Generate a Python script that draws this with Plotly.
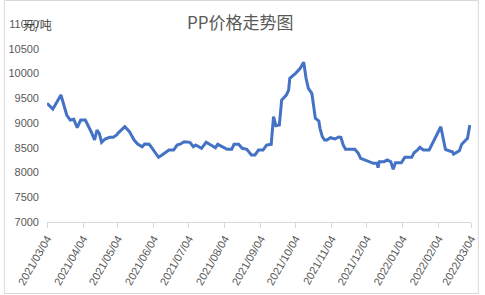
import plotly.graph_objects as go

dates = [
    "2021-03-04", "2021-03-09", "2021-03-16", "2021-03-19", "2021-03-21", "2021-03-24",
    "2021-03-27", "2021-03-30", "2021-04-02", "2021-04-06", "2021-04-09", "2021-04-11",
    "2021-04-14", "2021-04-16", "2021-04-18", "2021-04-20", "2021-04-23", "2021-04-27",
    "2021-04-30", "2021-05-03", "2021-05-04", "2021-05-10", "2021-05-14", "2021-05-18",
    "2021-05-21", "2021-05-25", "2021-05-27", "2021-05-31", "2021-06-02", "2021-06-05",
    "2021-06-08", "2021-06-11", "2021-06-15", "2021-06-17", "2021-06-21", "2021-06-24",
    "2021-06-27", "2021-06-30", "2021-07-05", "2021-07-08", "2021-07-10", "2021-07-15",
    "2021-07-19", "2021-07-23", "2021-07-27", "2021-07-29", "2021-08-02", "2021-08-06",
    "2021-08-10", "2021-08-12", "2021-08-16", "2021-08-19", "2021-08-23", "2021-08-27",
    "2021-08-30", "2021-09-02", "2021-09-06", "2021-09-09", "2021-09-13", "2021-09-15",
    "2021-09-17", "2021-09-20", "2021-09-22", "2021-09-26", "2021-09-28", "2021-09-29",
    "2021-10-04", "2021-10-08", "2021-10-11", "2021-10-13", "2021-10-15", "2021-10-18",
    "2021-10-21", "2021-10-24", "2021-10-25", "2021-10-27", "2021-10-29", "2021-10-31",
    "2021-11-03", "2021-11-07", "2021-11-10", "2021-11-12", "2021-11-14", "2021-11-16",
    "2021-11-24", "2021-11-27", "2021-11-29", "2021-12-03", "2021-12-06", "2021-12-10",
    "2021-12-13", "2021-12-14", "2021-12-15", "2021-12-19", "2021-12-22", "2021-12-25",
    "2021-12-27", "2021-12-29", "2022-01-03", "2022-01-06", "2022-01-12", "2022-01-14",
    "2022-01-17", "2022-01-19", "2022-01-22", "2022-01-27", "2022-02-06", "2022-02-08",
    "2022-02-10", "2022-02-13", "2022-02-16", "2022-02-17", "2022-02-22", "2022-02-24",
    "2022-03-01", "2022-03-03",
]

prices = [
    9400, 9280, 9565, 9297, 9161, 9060,
    9075, 8905, 9060, 9060, 8925, 8824,
    8656, 8858, 8790, 8610, 8677, 8711,
    8711, 8757, 8792, 8925, 8824, 8656,
    8576, 8521, 8576, 8570, 8509, 8400,
    8307, 8353, 8420, 8454, 8454, 8555,
    8576, 8622, 8610, 8521, 8555, 8488,
    8610, 8555, 8501, 8569, 8521, 8468,
    8468, 8569, 8569, 8488, 8468, 8353,
    8353, 8454, 8454, 8555, 8569, 9127,
    8945, 8959, 9464, 9565, 9666, 9903,
    10004, 10105, 10226, 9903, 9700, 9600,
    9095, 9040, 8892, 8723, 8656, 8656,
    8703, 8677, 8717, 8710, 8555, 8468,
    8468, 8388, 8287, 8252, 8218, 8185,
    8185, 8097, 8218, 8218, 8252, 8218,
    8064, 8198, 8198, 8306, 8306, 8400,
    8454, 8509, 8454, 8454, 8925, 8656,
    8468, 8440, 8420, 8373, 8440, 8569,
    8690, 8960,
]

tick_dates = [
    "2021-03-04", "2021-04-04", "2021-05-04", "2021-06-04", "2021-07-04", "2021-08-04",
    "2021-09-04", "2021-10-04", "2021-11-04", "2021-12-04", "2022-01-04", "2022-02-04",
    "2022-03-04",
]
tick_labels = [
    "2021/03/04", "2021/04/04", "2021/05/04", "2021/06/04", "2021/07/04", "2021/08/04",
    "2021/09/04", "2021/10/04", "2021/11/04", "2021/12/04", "2022/01/04", "2022/02/04",
    "2022/03/04",
]
y_ticks = [7000, 7500, 8000, 8500, 9000, 9500, 10000, 10500, 11000]
y_labels = ["7000", "7500", "8000", "8500", "9000", "9500", "10000", "10500", "11000"]

title_text = "PP价格走势图"
unit_text = "元/吨"

W, H = 485, 295
L, R, T, B = 44, 8, 24, 73
pw, ph = W - L - R, H - T - B

fig = go.Figure()
fig.add_trace(go.Scatter(
    x=dates, y=prices, mode="lines",
    line=dict(color="#4472C4", width=3),
    hoverinfo="skip", showlegend=False,
))

gray = "#595959"
fig.update_layout(
    width=W, height=H,
    margin=dict(l=L, r=R, t=T, b=B),
    paper_bgcolor="white", plot_bgcolor="white",
    font=dict(family="Liberation Sans, Arial, sans-serif", color=gray, size=11),
    xaxis=dict(
        type="date",
        range=[tick_dates[0], tick_dates[-1]],
        tickmode="array", tickvals=tick_dates, ticktext=tick_labels,
        tickangle=-60, tickfont=dict(size=11, color=gray),
        showgrid=False, zeroline=False,
        showline=True, linecolor="#D9D9D9", linewidth=1,
        ticks="outside", ticklen=5, tickcolor="#D9D9D9",
    ),
    yaxis=dict(
        range=[y_ticks[0], y_ticks[-1]],
        tickmode="array", tickvals=y_ticks, ticktext=y_labels,
        tickfont=dict(size=11, color=gray),
        ticklabelstandoff=7,
        showgrid=False, zeroline=False, showline=False, ticks="",
    ),
    annotations=[
        dict(text=title_text, xref="paper", yref="paper",
             x=(242 - L) / pw, y=1 + (T - 21) / ph, xanchor="center", yanchor="middle",
             showarrow=False, font=dict(size=17, color=gray,
                                        family="Noto Sans CJK SC, Liberation Sans, sans-serif")),
        dict(text=unit_text, xref="paper", yref="paper",
             x=(17 - L) / pw, y=1 + (T - 24) / ph, xanchor="left", yanchor="middle",
             showarrow=False, font=dict(size=12, color="#404040",
                                        family="Noto Sans CJK SC, sans-serif")),
    ],
    shapes=[
        dict(type="rect", xref="paper", yref="paper",
             x0=(0.5 - L) / pw, x1=(W - 0.5 - L) / pw,
             y0=1 - (H - 1.5 - T) / ph, y1=1 + (T - 0.5) / ph,
             line=dict(color="#D9D9D9", width=1), layer="below"),
    ],
)

fig.write_html("out.html")
